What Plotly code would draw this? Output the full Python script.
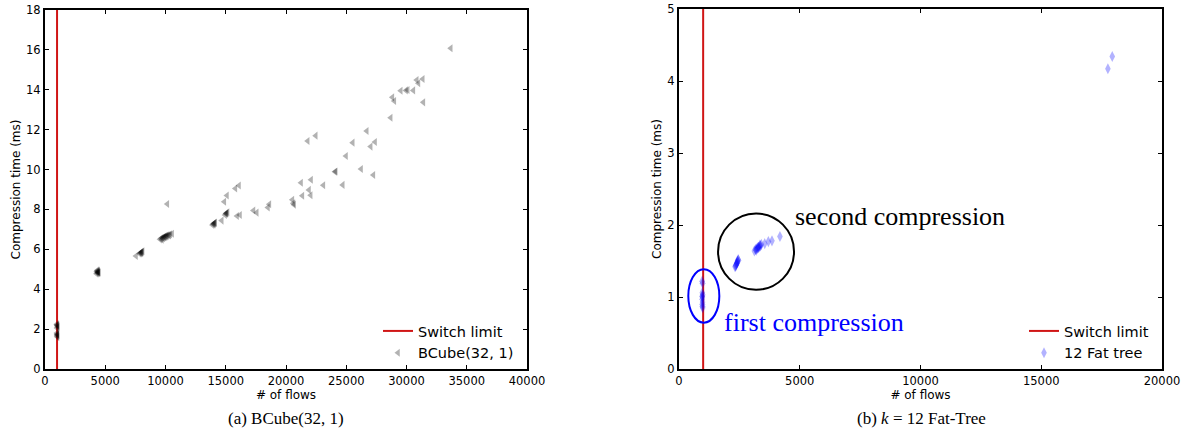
import plotly.graph_objects as go

# ---------------- data ----------------
SWITCH_LIMIT = 1000

# BCube(32, 1): number of flows vs compression time (ms)
bcube_flows = [
    # dense group near the switch limit
    980, 1010, 1040, 1060, 1000, 1030, 990, 1020, 1050, 1000, 1040, 1010,
    # ~4400 flows
    4280, 4330, 4380, 4420, 4460, 4350, 4410, 4300, 4450, 4390,
    # ~8000 flows
    7550, 7850, 7920, 7980, 8050, 8100, 7950, 8020,
    # ~10000 flows
    9550, 9650, 9750, 9850, 9950, 10050, 10150, 10250, 10400, 10550,
    9700, 9900, 10100, 10300, 9800, 10000,
    # ~14000 flows
    13900, 13980, 14050, 14120, 14000, 14080,
    # ~15000 flows
    14950, 15020, 15080, 15150, 15050,
    # scattered runs
    10150, 14670, 14880, 15100, 15940, 16185, 15800, 16100, 17570, 17300,
    18620, 18500, 20610, 20530, 20670, 21360, 22050, 21910, 21250, 22080,
    23100, 24710, 24070, 24130, 26230, 27250, 24980, 25540, 27390, 27030,
    26700, 21800, 22470, 28690, 28830, 28990, 31400, 29520, 29960, 30100,
    30570, 30850, 31350, 30990, 33670,
]
bcube_time = [
    2.25, 2.2, 2.15, 2.1, 2.05, 2.2, 1.8, 1.75, 1.7, 1.65, 1.6, 1.72,
    4.78, 4.82, 4.88, 4.92, 4.85, 4.95, 4.8, 4.9, 4.83, 4.87,
    5.67, 5.78, 5.82, 5.85, 5.88, 5.9, 5.8, 5.84,
    6.5, 6.55, 6.58, 6.62, 6.65, 6.68, 6.7, 6.72, 6.75, 6.78,
    6.48, 6.6, 6.66, 6.7, 6.56, 6.62,
    7.22, 7.28, 7.3, 7.34, 7.25, 7.32,
    7.72, 7.78, 7.82, 7.86, 7.8,
    8.27, 7.44, 8.39, 8.7, 7.67, 7.72, 9.05, 9.2, 7.84, 7.95,
    8.26, 8.1, 8.31, 8.49, 8.24, 8.69, 8.71, 8.98, 9.34, 9.49,
    9.21, 9.23, 9.89, 9.9, 10.03, 9.73, 10.68, 11.35, 11.38, 11.15,
    11.93, 11.43, 11.7, 12.6, 13.62, 13.44, 13.37, 13.95, 13.97, 13.99,
    13.97, 14.49, 14.54, 14.33, 16.08,
]

# k = 12 Fat-Tree: number of flows vs compression time (ms)
fattree_flows = [
    # first compression, at the switch limit
    960, 975, 965, 980, 970, 960, 975, 965, 970, 980, 960,
    # ~2400 flows
    2320, 2360, 2400, 2430, 2460, 2380, 2420, 2340, 2450,
    # ~3300 flows
    3120, 3170, 3210, 3250, 3290, 3330, 3370, 3410, 3200, 3280, 3350,
    3550, 3700, 3850, 4180,
    # largest runs
    17760, 17940,
]
fattree_time = [
    1.22, 1.19, 1.06, 1.03, 1.0, 0.97, 0.93, 0.9, 0.87, 0.85, 1.01,
    1.42, 1.44, 1.47, 1.49, 1.51, 1.46, 1.5, 1.43, 1.52,
    1.64, 1.66, 1.67, 1.68, 1.69, 1.7, 1.71, 1.73, 1.65, 1.69, 1.72,
    1.74, 1.77, 1.78, 1.84,
    4.17, 4.34,
]

# outlines around the two compression groups (x0, x1, y0, y1)
first_group = (385, 1670, 0.643, 1.385)
second_group = (1617, 4763, 1.10, 2.16)

# axis ticks
bcube_xticks = list(range(0, 40001, 5000))
bcube_yticks = list(range(0, 19, 2))
fattree_xticks = list(range(0, 20001, 5000))
fattree_yticks = list(range(0, 6))

# ---------------- styling ----------------
W, H = 1188, 443
SANS = "DejaVu Sans"
SERIF = "Liberation Serif"
RED = "#d01515"


def px_x(p):
    return p / W


def px_y(p):
    return 1 - p / H


fig = go.Figure()

# left panel
fig.add_trace(go.Scatter(
    x=[SWITCH_LIMIT, SWITCH_LIMIT], y=[0, 18], mode="lines",
    line=dict(color=RED, width=2), name="Switch limit",
    xaxis="x", yaxis="y", legend="legend",
))
fig.add_trace(go.Scatter(
    x=bcube_flows, y=bcube_time, mode="markers", name="BCube(32, 1)",
    marker=dict(symbol="triangle-left", size=7, color="rgba(0,0,0,0.3)",
                line=dict(width=0)),
    xaxis="x", yaxis="y", legend="legend",
))

# right panel
fig.add_trace(go.Scatter(
    x=[SWITCH_LIMIT, SWITCH_LIMIT], y=[0, 5], mode="lines",
    line=dict(color=RED, width=2), name="Switch limit",
    xaxis="x2", yaxis="y2", legend="legend2",
))
fig.add_trace(go.Scatter(
    x=fattree_flows, y=fattree_time, mode="markers", name="12 Fat tree",
    marker=dict(symbol="diamond-tall", size=8, color="rgba(0,0,255,0.3)",
                line=dict(width=0)),
    xaxis="x2", yaxis="y2", legend="legend2",
))

axis_common = dict(
    showgrid=False, zeroline=False, showline=True, linecolor="black",
    linewidth=2, mirror="ticks", ticks="inside", ticklen=4, tickwidth=1,
    tickcolor="black", tickformat="d", automargin=False,
    tickfont=dict(family=SANS, size=11.5, color="black"),
)
title_font = dict(family=SANS, size=12, color="black")

fig.update_layout(
    width=W, height=H, margin=dict(l=0, r=0, t=0, b=0),
    paper_bgcolor="white", plot_bgcolor="white",
    xaxis=dict(axis_common, domain=[px_x(45), px_x(527)], range=[0, 40000],
               tickvals=bcube_xticks, anchor="y",
               title=dict(text="# of flows", font=title_font, standoff=2)),
    yaxis=dict(axis_common, domain=[px_y(369), px_y(10)], range=[0, 18],
               tickvals=bcube_yticks, anchor="x",
               title=dict(text="Compression time (ms)", font=title_font,
                          standoff=3)),
    xaxis2=dict(axis_common, domain=[px_x(679), px_x(1162)],
                range=[0, 20000], tickvals=fattree_xticks, anchor="y2",
                title=dict(text="# of flows", font=title_font, standoff=2)),
    yaxis2=dict(axis_common, domain=[px_y(369), px_y(9)], range=[0, 5],
                tickvals=fattree_yticks, anchor="x2",
                title=dict(text="Compression time (ms)", font=title_font,
                           standoff=3)),
    legend=dict(x=px_x(378), y=px_y(315), xanchor="left", yanchor="top",
                bgcolor="rgba(0,0,0,0)", borderwidth=0,
                font=dict(family=SANS, size=14.5, color="black"),
                tracegroupgap=0),
    legend2=dict(x=px_x(1024), y=px_y(315), xanchor="left", yanchor="top",
                 bgcolor="rgba(0,0,0,0)", borderwidth=0,
                 font=dict(family=SANS, size=14.5, color="black"),
                 tracegroupgap=0),
    showlegend=True,
)

# group outlines
fig.add_shape(type="circle", xref="x2", yref="y2",
              x0=second_group[0], x1=second_group[1],
              y0=second_group[2], y1=second_group[3],
              line=dict(color="black", width=2))
fig.add_shape(type="circle", xref="x2", yref="y2",
              x0=first_group[0], x1=first_group[1],
              y0=first_group[2], y1=first_group[3],
              line=dict(color="blue", width=2))

fig.add_annotation(text="second compression", xref="x2", yref="y2",
                   x=4720, y=2.125, xanchor="left", yanchor="middle",
                   showarrow=False,
                   font=dict(family=SERIF, size=26, color="black"))
fig.add_annotation(text="first compression", xref="x2", yref="y2",
                   x=1780, y=0.64, xanchor="left", yanchor="middle",
                   showarrow=False,
                   font=dict(family=SERIF, size=26, color="blue"))

# sub-figure captions
fig.add_annotation(text="(a) BCube(32, 1)", xref="paper", yref="paper",
                   x=px_x(286), y=px_y(418), xanchor="center",
                   yanchor="middle", showarrow=False,
                   font=dict(family=SERIF, size=17, color="black"))
fig.add_annotation(text="(b) <i>k</i> = 12 Fat-Tree", xref="paper",
                   yref="paper", x=px_x(921), y=px_y(418), xanchor="center",
                   yanchor="middle", showarrow=False,
                   font=dict(family=SERIF, size=17, color="black"))

fig.write_html("out.html")
